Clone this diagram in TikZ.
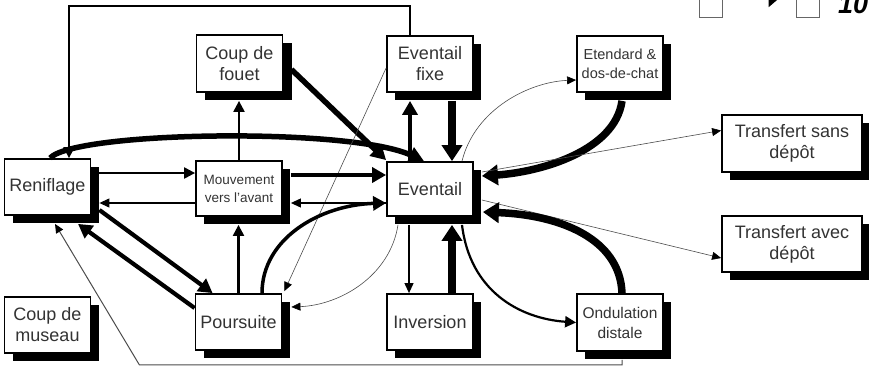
\documentclass[tikz,border=0pt]{standalone}
\usepackage{fontspec}
\setmainfont{Liberation Sans}
\usetikzlibrary{arrows.meta,calc}

\begin{document}
\begin{tikzpicture}[x=1pt,y=-1pt,
  box/.style={draw=black, line width=1.8pt, fill=white,
    minimum width=86pt, minimum height=56pt, align=center, inner sep=1pt,
    text=black!80, font=\fontsize{18}{21}\selectfont},
  shade/.style={fill=black},
  wide/.style={minimum width=140pt},
  small/.style={font=\fontsize{13.5}{18}\selectfont},
  mid/.style={font=\fontsize{14.5}{19}\selectfont},
  midb/.style={font=\fontsize{15.5}{20}\selectfont},
  w1/.style={line width=0.6pt, draw=black!70, -{Triangle[length=9pt,width=8pt,black]}},
  w2/.style={line width=1.1pt, -{Triangle[length=10pt,width=9pt]}},
  w3/.style={line width=2.2pt, -{Triangle[length=11pt,width=11pt]}},
  w4/.style={line width=4.2pt, -{Triangle[length=14pt,width=15pt]}},
  w5/.style={line width=7.5pt, -{Triangle[length=16pt,width=20pt]}},
  legbox/.style={draw=black!60, line width=0.8pt, minimum width=23pt, minimum height=22pt, inner sep=0pt}
]
\useasboundingbox (0,0) rectangle (869,367);

% solid offset shadows, drawn first so the boxes sit on top
\fill[shade] (13,167)  rectangle (99,223);
\fill[shade] (13,305)  rectangle (99,361);
\fill[shade] (204.5,43) rectangle (291.5,100);
\fill[shade] (204,169) rectangle (290,224);
\fill[shade] (203.5,302) rectangle (289.5,358);
\fill[shade] (395,44)  rectangle (481,100);
\fill[shade] (395,170) rectangle (481,224);
\fill[shade] (395,302) rectangle (481,358);
\fill[shade] (585,44)  rectangle (671,100);
\fill[shade] (585,302) rectangle (671,359);
\fill[shade] (730,123) rectangle (870,180);
\fill[shade] (730,224) rectangle (870,280);

% behaviour boxes
\node[box] (ren)   at (47.5,187)  {Reniflage};
\node[box] (mus)   at (47.5,325)  {Coup de\\museau};
\node[box, minimum height=57pt] (fouet) at (239.5,63.5) {Coup de\\fouet};
\node[box, small, minimum height=55pt] (mouv) at (239,188.5) {Mouvement\\vers l'avant};
\node[box] (pours) at (238.5,322) {Poursuite};
\node[box] (fixe)  at (430,64)    {Eventail\\fixe};
\node[box, minimum height=54pt] (ev) at (430,189) {Eventail};
\node[box] (inv)   at (430,322)   {Inversion};
\node[box, mid] (etd) at (620,64) {Etendard \&\\dos-de-chat};
\node[box, midb, minimum height=57pt] (ond) at (620,322.5) {Ondulation\\distale};
\node[box, wide, minimum height=57pt] (tsans) at (792,143.5) {Transfert sans\\dépôt};
\node[box, wide] (tavec) at (792,244) {Transfert avec\\dépôt};

% legend (top right)
\node[legbox] (lg1) at (710.5,6) {};
\node[legbox] (lg2) at (807.5,6) {};
\draw[line width=2pt, -{Triangle[length=12pt,width=20pt]}] ($(lg1.east)+(12,-9)$) -- ($(lg2.west)+(-15,-9)$);
\node[anchor=base west, inner sep=0pt, font=\fontsize{27}{27}\selectfont\bfseries\itshape] (lgt) at (838,13) {10};

% connectors
\draw[w3] ($(fixe.north)+(-20,0)$) -- ++(0,-29) -| ($(ren.north)+(21.5,0)$);
\draw[line width=5.5pt, -{Triangle[length=15pt,width=16pt]}] ($(ren.north)+(2.5,0)$)
  .. controls ($(ren.north)+(27.5,-27)$) and ($(ev.north)+(-80,-34)$) .. ($(ev.north)+(-6,0)$);
\draw[line width=5.5pt, -{Triangle[length=15pt,width=16pt]}] ($(fouet.east)+(8,6)$) -- ($(ev.north west)+(0,-1)$);
\draw[w3] (mouv.north) -- ($(mouv.north |- fouet.south)+(0,8)$);
\draw[w4] ($(ev.north)+(-20,0)$) -- ($(fixe.south)+(-20,8)$);
\draw[w5] ($(fixe.south)+(22,8)$) -- ($(ev.north)+(22,0)$);
\draw[w1] ($(ev.north)+(32,0)$) .. controls ($(ev.north)+(45,-52)$) and ($(etd.west)+(-47,18)$) .. ($(etd.west)+(0,16)$);
\draw[w5] ($(etd.south)+(2,8)$) .. controls ($(etd.south)+(-5,58)$) and ($(ev.east)+(67,-17)$) .. ($(ev.east)+(8,-13)$);
\draw[w1] ($(ev.east)+(8,-17)$) -- ($(tsans.west)+(0,-13)$);
\draw[w1] ($(ev.east)+(8,11)$) -- ($(tavec.west)+(0,14)$);
\draw[w5] ($(ond.north)+(2,0)$) .. controls ($(ond.north)+(0,-54)$) and ($(ev.east)+(87,26)$) .. ($(ev.east)+(9,23)$);
\draw[w3] ($(ev.south)+(32,8)$) .. controls ($(ev.south)+(40,74)$) and ($(ond.west)+(-57,-4)$) .. (ond.west);
\draw[w5] ($(inv.north)+(22,0)$) -- ($(ev.south)+(22,8)$);
\draw[w2] ($(ev.south)+(-21,8)$) -- ($(inv.north)+(-21,0)$);
\draw[w1] ($(ev.south)+(-32,8)$) .. controls ($(ev.south)+(-40,59)$) and ($(pours.east)+(58,-17)$) .. ($(pours.east)+(9,-15)$);
\draw[w1] ($(fixe.west)+(0,4)$) -- ($(pours.north east)+(2,-2)$);
\draw[line width=3.5pt, -{Triangle[length=13pt,width=14pt]}] ($(pours.north)+(23.5,0)$)
  .. controls ($(pours.north)+(23.5,-54)$) and ($(ev.west)+(-67,16)$) .. ($(ev.west)+(0,14)$);
\draw[w3] (pours.north) -- ($(pours.north |- mouv.south)+(0,8)$);
\draw[w4] ($(mouv.east)+(8,-13.5)$) -- ($(ev.west)+(0,-14)$);
\draw[w2] ($(ev.west)+(0,14)$) -- ($(mouv.east)+(8,14.5)$);
\draw[w3] ($(ren.east)+(8,-14)$) -- ($(mouv.west)+(0,-15.5)$);
\draw[w2] ($(mouv.west)+(0,14.5)$) -- ($(ren.east)+(8,16)$);
\draw[w4] ($(ren.east)+(8,23)$) -- ($(pours.north west)+(18,0)$);
\draw[w4] ($(pours.west)+(0,-14)$) -- ($(ren.south)+(30.5,8)$);
\coordinate (low) at ($(mus.south east)+(48,11)$);
\draw[w1, line width=1pt] ($(ond.south)+(2,8)$) |- (low) -- ($(ren.south)+(7.5,8)$);
\end{tikzpicture}
\end{document}
